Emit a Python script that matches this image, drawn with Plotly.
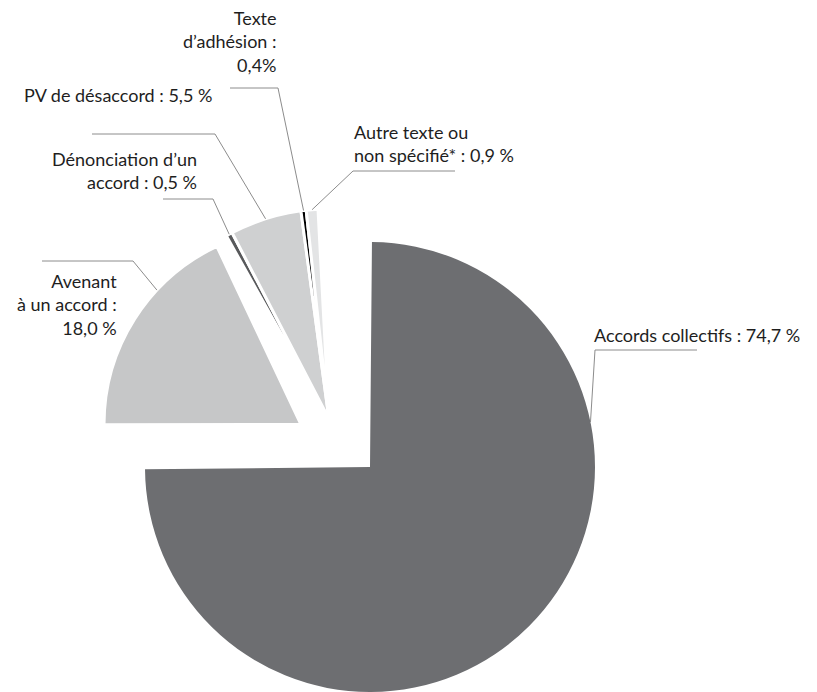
import math
import plotly.graph_objects as go

# ---------------- data ----------------
categories = [
    "Accords collectifs",
    "Avenant à un accord",
    "Dénonciation d’un accord",
    "PV de désaccord",
    "Texte d’adhésion",
    "Autre texte ou non spécifié*",
]
values = [74.7, 18.0, 0.5, 5.5, 0.4, 0.9]

# label templates ({} replaced by the formatted value)
label_templates = [
    "Accords collectifs : {} %",
    "Avenant<br>à un accord :<br>{} %",
    "Dénonciation d’un<br>accord : {} %",
    "PV de désaccord : {} %",
    "Texte<br>d’adhésion :<br>{}%",
    "Autre texte ou<br>non spécifié* : {} %",
]

# ---------------- style ----------------
W, H = 817, 692
colors = ["#6d6e71", "#c6c7c8", "#58595b", "#cfd0d1", "#000000", "#e3e4e5"]
FONT = "Lato, 'Open Sans', sans-serif"
TEXT_COLOR = "#1e1e1e"
LEADER_COLOR = "#8c8c8c"
FONT_SIZE = 18

# exploded groups: pixel centre, radius, rotation, white border width
groups = [
    dict(members=[0], cx=370, cy=467, r=225, rot=0.5, lw=0),
    dict(members=[1], cx=301, cy=424.5, r=197, rot=1, lw=3),
    dict(members=[2, 3, 4, 5], cx=329, cy=419, r=210, rot=-3, lw=3),
]

# label placement (pixels): anchor x, centre y, side, leader elbow, leader tail, fraction in slice
label_layout = [
    dict(x=593, y=335, side="left", elbow=(595, 350), tail=(697, 350), frac=0.29),
    dict(x=118, y=304, side="right", elbow=(133, 261), tail=(42, 261), frac=0.665),
    dict(x=198, y=171, side="right", elbow=(213, 199), tail=(163, 199), frac=0.5),
    dict(x=213, y=95, side="right", elbow=(215, 134), tail=(92, 134), frac=0.5),
    dict(x=278, y=41.5, side="right", elbow=(278, 88), tail=(230, 88), frac=0.5),
    dict(x=353, y=143.5, side="left", elbow=(353, 171), tail=(455, 171), frac=0.5),
]


def fr(v):
    return f"{v:.1f}".replace(".", ",")


def px(x):
    return x / W


def py(y):
    return 1 - y / H


total = sum(values)
cum = [sum(values[:i]) for i in range(len(values))]

fig = go.Figure()
group_of = {}
for g in groups:
    cols, widths = [], []
    for i in range(len(values)):
        if i in g["members"]:
            cols.append(colors[i])
            widths.append(g["lw"])
            group_of[i] = g
        else:
            cols.append("rgba(0,0,0,0)")
            widths.append(0)
    fig.add_trace(
        go.Pie(
            labels=categories,
            values=values,
            sort=False,
            direction="clockwise",
            rotation=g["rot"],
            marker=dict(colors=cols, line=dict(color="white", width=widths)),
            textinfo="none",
            hoverinfo="skip",
            showlegend=False,
            domain=dict(
                x=[px(g["cx"] - g["r"]), px(g["cx"] + g["r"])],
                y=[py(g["cy"] + g["r"]), py(g["cy"] - g["r"])],
            ),
        )
    )

annotations = []
shapes = []
for i, lab in enumerate(label_layout):
    g = group_of[i]
    start = g["rot"] + 360 * cum[i] / total
    span = 360 * values[i] / total
    a = math.radians(start + lab["frac"] * span)
    ax = g["cx"] + g["r"] * math.sin(a)
    ay = g["cy"] - g["r"] * math.cos(a)
    path = "M {} {} L {} {} L {} {}".format(
        px(lab["tail"][0]), py(lab["tail"][1]),
        px(lab["elbow"][0]), py(lab["elbow"][1]),
        px(ax), py(ay),
    )
    shapes.append(dict(type="path", xref="paper", yref="paper", path=path,
                       line=dict(color=LEADER_COLOR, width=1)))
    annotations.append(dict(
        x=px(lab["x"]), y=py(lab["y"]), xref="paper", yref="paper",
        text=label_templates[i].format(fr(values[i])),
        showarrow=False,
        xanchor="left" if lab["side"] == "left" else "right",
        yanchor="middle",
        align="left" if lab["side"] == "left" else "right",
        font=dict(family=FONT, size=FONT_SIZE, color=TEXT_COLOR),
        borderpad=0,
    ))

fig.update_layout(
    width=W,
    height=H,
    margin=dict(l=0, r=0, t=0, b=0),
    paper_bgcolor="white",
    plot_bgcolor="white",
    annotations=annotations,
    shapes=shapes,
)

fig.write_html(
    "out.html",
    config={"displayModeBar": False, "staticPlot": True},
    post_script="document.body.style.margin='0';document.body.style.overflow='hidden';",
)
